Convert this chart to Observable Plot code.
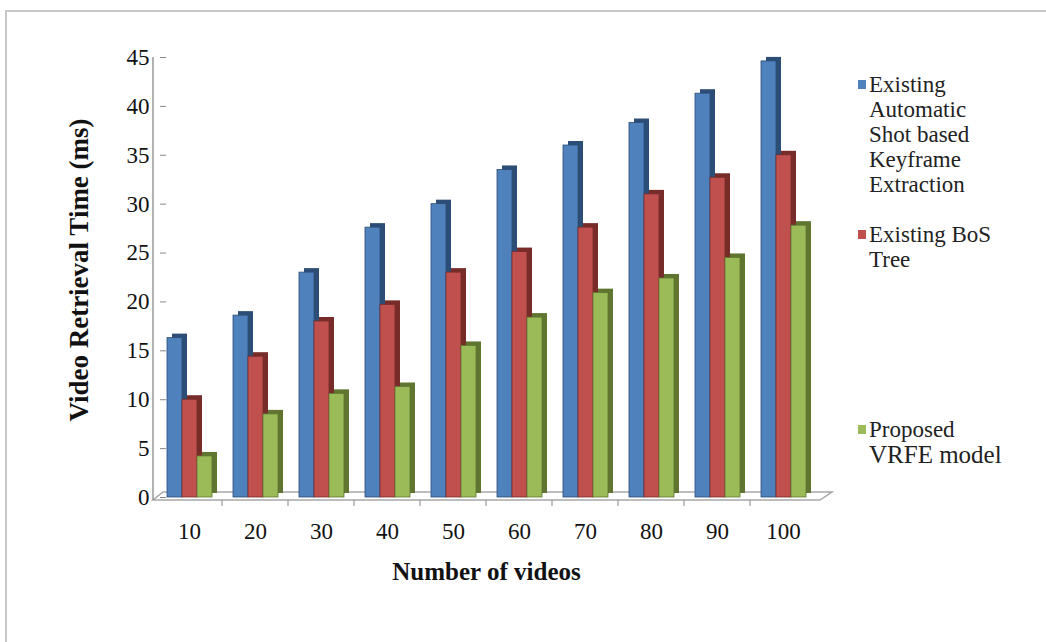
<!DOCTYPE html>
<html>
<head>
<meta charset="utf-8">
<script src="https://cdn.jsdelivr.net/npm/d3@7"></script>
<script src="https://cdn.jsdelivr.net/npm/@observablehq/plot@0.6"></script>
<style>
  html, body { margin: 0; padding: 0; background: #fff; }
  #wrap { position: relative; width: 1046px; height: 642px; overflow: hidden; font-family: "Liberation Serif", "Times New Roman", serif; }
  #frame { position: absolute; left: 5px; top: 10px; width: 1100px; height: 700px; border-left: 2px solid #c8c8c8; border-top: 2px solid #c8c8c8; box-sizing: border-box; }
  #chart { position: absolute; left: 0; top: 0; }
  .leg { position: absolute; left: 869px; font-family: "Liberation Serif", serif; font-size: 23px; line-height: 25px; color: #222; white-space: nowrap; }
  .sw { position: absolute; left: -11px; top: 8px; width: 8px; height: 9px; }
</style>
</head>
<body>
<div id="wrap">
  <div id="frame"></div>
  <div id="chart"></div>
  <div id="legend"></div>
</div>
<script>
const videos = [10, 20, 30, 40, 50, 60, 70, 80, 90, 100];
const seriesNames = [
  "Existing Automatic Shot based Keyframe Extraction",
  "Existing BoS Tree",
  "Proposed VRFE model"
];
const automaticShot = [16.3, 18.6, 23, 27.6, 30, 33.5, 36, 38.3, 41.3, 44.6];
const bosTree = [10, 14.4, 18, 19.7, 23, 25.1, 27.6, 31, 32.7, 35];
const proposedVRFE = [4.2, 8.5, 10.6, 11.3, 15.5, 18.4, 20.9, 22.4, 24.5, 27.8];
const yTicks = [0, 5, 10, 15, 20, 25, 30, 35, 40, 45];
const colors = ["#4F81BD", "#C0504D", "#9BBB59"];
const sideColors = ["#2C4D75", "#772C2A", "#5F7530"];
const legendLines = [
  ["Existing", "Automatic", "Shot based", "Keyframe", "Extraction"],
  ["Existing BoS", "Tree"],
  ["Proposed", "VRFE model"]
];

const seriesValues = [automaticShot, bosTree, proposedVRFE];
const data = [];
seriesValues.forEach((vals, s) => vals.forEach((v, i) => data.push({videos: videos[i], series: seriesNames[s], value: v, s})));

const barMarks = [];
seriesNames.forEach((name, s) => {
  const sub = data.filter(d => d.s === s);
  barMarks.push(Plot.barY(sub, {fx: "videos", x: "series", y: "value", fill: sideColors[s], dx: 5, dy: -4}));
  barMarks.push(Plot.barY(sub, {fx: "videos", x: "series", y: "value", fill: colors[s], stroke: sideColors[s], strokeWidth: 0.8}));
});

const serif = "'Liberation Serif', 'Times New Roman', serif";
const chart = Plot.plot({
  width: 1046,
  height: 642,
  marginLeft: 153,
  marginRight: 226,
  marginTop: 57,
  marginBottom: 145,
  style: {fontFamily: serif, fontSize: "22px", color: "#111", background: "transparent"},
  fx: {paddingInner: 0.3, paddingOuter: 0.2, label: null},
  x: {domain: seriesNames, axis: null, padding: 0},
  y: {domain: [0, 45], label: null},
  marks: [
    Plot.axisY({ticks: yTicks, tickSize: 6, tickPadding: 11, stroke: "#888", fontSize: 23, label: null}),
    ...barMarks,
    Plot.axisFx({anchor: "bottom", label: null, tickSize: 0, tickPadding: 25, fontSize: 23})
  ]
});
document.getElementById("chart").appendChild(chart);

const svg = d3.select(chart);
const ys = chart.scale("y");
const y0 = ys.apply(0), yTop = ys.apply(45);
const left = 153, right = 1046 - 226;

// 3D floor and vertical axis line (chrome derived from the y scale and frame)
const floor = svg.insert("g", ":first-child").attr("fill", "none").attr("stroke", "#a8a8a8").attr("stroke-width", 1.5);
floor.append("path").attr("d", `M${left},${y0 + 3} L${right},${y0 + 3} L${right + 12},${y0 - 5} L${left + 10},${y0 - 5} Z`);
svg.append("line").attr("x1", left).attr("x2", left).attr("y1", yTop).attr("y2", y0 + 3).attr("stroke", "#999").attr("stroke-width", 1.5);
const fxs = chart.scale("fx");
const step = fxs.step !== undefined ? fxs.step : (fxs.bandwidth / (1 - 0.3));
videos.forEach(v => {
  const xb = fxs.apply(v) + fxs.bandwidth + (step - fxs.bandwidth) / 2;
  if (xb < right - 5) svg.append("line").attr("x1", xb).attr("x2", xb).attr("y1", y0 + 3).attr("y2", y0 + 9).attr("stroke", "#999").attr("stroke-width", 1.2);
});

// Axis titles
svg.append("text")
  .attr("transform", `translate(82,${(y0 + yTop) / 2 - 7}) rotate(-90)`)
  .attr("text-anchor", "middle")
  .attr("dominant-baseline", "middle")
  .style("font-family", serif).style("font-weight", "bold").style("font-size", "27px")
  .attr("fill", "#111")
  .text("Video Retrieval Time (ms)");
svg.append("text")
  .attr("x", (left + right) / 2)
  .attr("y", 574)
  .attr("text-anchor", "middle")
  .attr("dominant-baseline", "middle")
  .style("font-family", serif).style("font-weight", "bold").style("font-size", "25px")
  .attr("fill", "#111")
  .text("Number of videos");

// Legend
const legendTops = [72, 222, 417];
const legend = document.getElementById("legend");
legendLines.forEach((lines, s) => {
  const div = document.createElement("div");
  div.className = "leg";
  div.style.top = legendTops[s] + "px";
  div.innerHTML = `<span class="sw" style="background:${colors[s]}"></span>` +
    lines.map((l, j) => s === 2 && j === 1 ? `<span style="font-size:25px">${l}</span>` : l).join("<br>");
  legend.appendChild(div);
});
</script>
</body>
</html>
